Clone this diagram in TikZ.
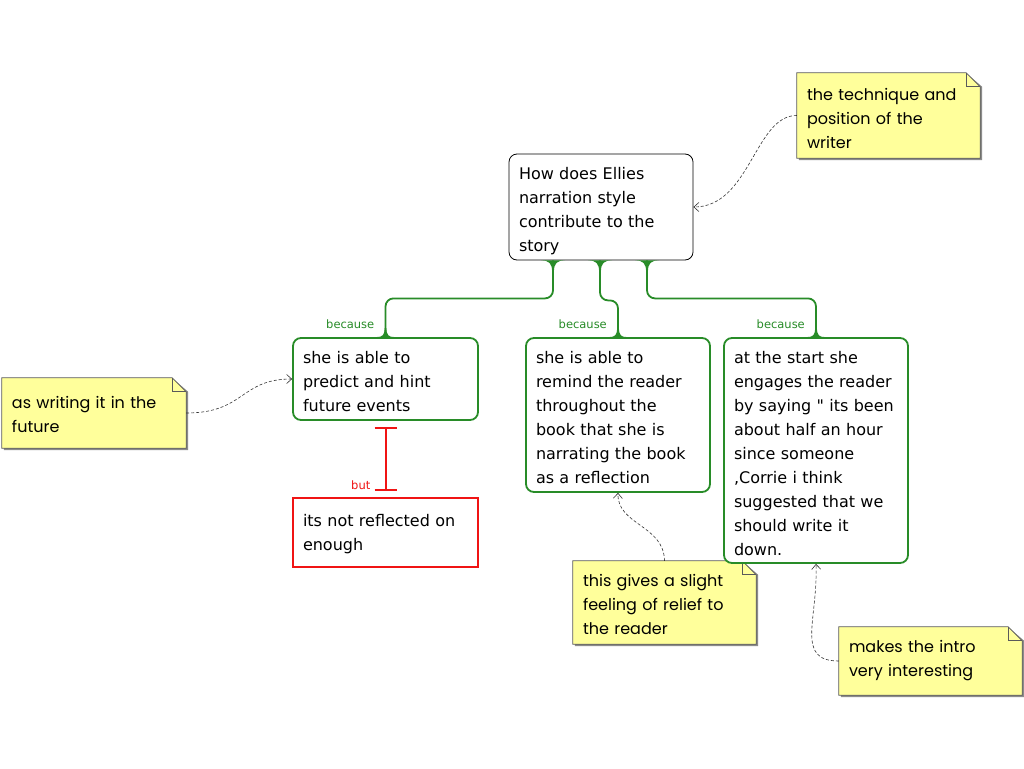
\documentclass[tikz,border=0pt]{standalone}
\usepackage{fontspec}
\setmainfont{DejaVu Sans}[Ligatures=TeXOff]
\newfontfamily\notefont{Poppins}
\usetikzlibrary{arrows.meta,calc}
\definecolor{conngreen}{RGB}{40,140,40}
\definecolor{connred}{RGB}{240,20,20}
\definecolor{notefill}{RGB}{255,255,155}
\definecolor{noteline}{RGB}{90,90,90}
\tikzset{
  txt/.style={font=\fontsize{16}{24}\selectfont, align=left, inner xsep=10pt, inner ysep=0pt},
  qbox/.style={draw=black, line width=0.8pt, rounded corners=8pt, fill=white},
  gbox/.style={draw=conngreen, line width=1.8pt, rounded corners=8pt, fill=white},
  rbox/.style={draw=connred, line width=1.8pt, fill=white},
  note/.style={font=\notefont\fontsize{16}{24}\selectfont, align=left, inner xsep=10pt, inner ysep=0pt},
  gconn/.style={draw=conngreen, line width=1.8pt, rounded corners=8pt},
  lbl/.style={font=\fontsize{11.5}{12}\selectfont, inner sep=0pt},
  dasharrow/.style={draw=black!80, dashed, dash pattern=on 3pt off 2pt, line width=0.6pt, -{Straight Barb[length=5pt,width=9pt]}},
  flare/.pic={\fill[conngreen] (-9,0) .. controls (-3,0) and (-1,2) .. (-0.9,9) -- (0.9,9) .. controls (1,2) and (3,0) .. (9,0) -- cycle;},
  bigflare/.pic={\fill[conngreen] (-12,0) .. controls (-4,0) and (-1,3) .. (-0.9,11) -- (0.9,11) .. controls (1,3) and (4,0) .. (12,0) -- cycle;}
}
\newcommand{\drawnote}[1]{%
  \fill[black!45] ([xshift=2pt,yshift=-2pt]#1.north west) -- ([xshift=-12pt,yshift=-2pt]#1.north east) -- ([xshift=2pt,yshift=-14pt]#1.north east) -- ([xshift=2pt,yshift=-2pt]#1.south east) -- ([xshift=2pt,yshift=-2pt]#1.south west) -- cycle;
  \filldraw[fill=notefill, draw=noteline, line width=0.7pt] (#1.north west) -- ([xshift=-14pt]#1.north east) -- ([yshift=-14pt]#1.north east) -- (#1.south east) -- (#1.south west) -- cycle;
  \draw[noteline, line width=0.7pt] ([xshift=-14pt]#1.north east) -- ([xshift=-14pt,yshift=-14pt]#1.north east) -- ([yshift=-14pt]#1.north east);
}
\begin{document}
\begin{tikzpicture}[x=1pt,y=-1pt]
\useasboundingbox (0,0) rectangle (1024,768);
\fill[white] (0,0) rectangle (1024,768);

% notes
\node[minimum width=183pt, minimum height=85pt] (n1) at (888.5,115.5) {};
\node[minimum width=184pt, minimum height=70pt] (n2) at (94,413) {};
\node[minimum width=183pt, minimum height=83pt] (n3) at (664.5,602.5) {};
\node[minimum width=183pt, minimum height=68pt] (n4) at (930.5,661) {};
\drawnote{n1}
\drawnote{n2}
\drawnote{n3}
\drawnote{n4}
\node[note, text width=163pt] (t1) at ([yshift=-3pt]n1) {the technique and\\position of the\\writer};
\node[note, text width=164pt] (t2) at ([yshift=-1pt]n2) {as writing it in the\\future};
\node[note, text width=163pt] (t3) at ([yshift=-2pt]n3) {this gives a slight\\feeling of relief to\\the reader};
\node[note, text width=163pt] (t4) at ([yshift=0pt]n4) {makes the intro\\very interesting};

% main boxes
\node[qbox, minimum width=184pt, minimum height=106pt] (q) at (601,207) {};
\node[gbox, minimum width=185pt, minimum height=82pt] (a) at (385.5,379) {};
\node[gbox, minimum width=184pt, minimum height=154pt] (b) at (618,415) {};
\node[gbox, minimum width=184pt, minimum height=225pt] (c) at (816,450.5) {};
\node[rbox, minimum width=185pt, minimum height=69pt] (d) at (385.5,532.5) {};
% texts
\node[txt, text width=164pt] (tq) at ([yshift=-4pt]q) {How does Ellies\\narration style\\contribute to the\\story};
\node[txt, text width=165pt] (ta) at ([yshift=-3pt]a) {she is able to\\predict and hint\\future events};
\node[txt, text width=164pt] (tb) at ([yshift=-3pt]b) {she is able to\\remind the reader\\throughout the\\book that she is\\narrating the book\\as a reflection};
\node[txt, text width=164pt] (tc) at ([yshift=-3pt]c) {at the start she\\engages the reader\\by saying " its been\\about half an hour\\since someone\\,Corrie i think\\suggested that we\\should write it\\down.};
\node[txt, text width=165pt] (td) at ([yshift=-2pt]d) {its not reflected on\\enough};

% green connectors
\draw[gconn] ([xshift=-48pt]q.south) -- ++(0,38) -| (a.north);
\draw[gconn] ([xshift=-1pt]q.south) -- ++(0,40) -| (b.north);
\draw[gconn] ([xshift=46pt]q.south) -- ++(0,38) -| (c.north);
\pic at ([xshift=-48pt]q.south) {bigflare};
\pic at ([xshift=-1pt]q.south) {bigflare};
\pic at ([xshift=46pt]q.south) {bigflare};
\pic[yscale=-1] at (a.north) {flare};
\pic[yscale=-1] at (b.north) {flare};
\pic[yscale=-1] at (c.north) {flare};
\node[lbl, text=conngreen, anchor=east] (la) at ([xshift=-11pt,yshift=13pt]a.north) {because};
\node[lbl, text=conngreen, anchor=east] (lb) at ([xshift=-11pt,yshift=13pt]b.north) {because};
\node[lbl, text=conngreen, anchor=east] (lc) at ([xshift=-11pt,yshift=13pt]c.north) {because};

% red connector
\coordinate (r1) at ([yshift=-7pt]a.south);
\coordinate (r2) at ([yshift=7pt]d.north);
\draw[connred, line width=2pt] (r1) -- (r2);
\draw[connred, line width=2pt] ([xshift=-11pt]r1) -- ([xshift=11pt]r1);
\draw[connred, line width=2pt] ([xshift=-11pt]r2) -- ([xshift=11pt]r2);
\node[lbl, text=connred, anchor=east] (lbut) at ([xshift=-15pt,yshift=12pt]d.north) {but};

% dashed annotation arrows
\draw[dasharrow] (n1.west) .. controls (755,115) and (750,207) .. (q.east);
\draw[dasharrow] (n2.east) .. controls (245,413) and (240,379) .. (a.west);
\draw[dasharrow] (n3.north) .. controls (664,525) and (617,525) .. (b.south);
\draw[dasharrow] (n4.west) .. controls (795,661) and (818,620) .. (c.south);
\end{tikzpicture}
\end{document}
